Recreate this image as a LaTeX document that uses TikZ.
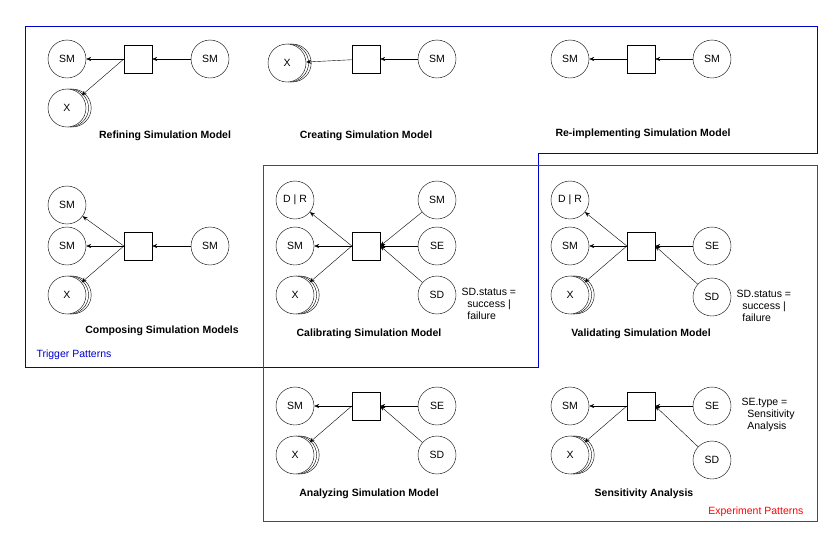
\documentclass[tikz,border=0pt]{standalone}
\usepackage{fontspec}
\setmainfont{Liberation Sans}
\usetikzlibrary{arrows.meta,positioning,shadows}

\begin{document}
\begin{tikzpicture}[
  x=1pt, y=-1pt,
  every node/.style={font=\fontsize{10.5}{12}\selectfont},
  ent/.style={circle, draw, minimum size=38pt, inner sep=0pt},
  many/.style={ent, fill=white, double copy shadow={shadow xshift=2.6pt, shadow yshift=0pt, fill=white, draw=black}},
  op/.style={rectangle, draw, minimum size=28pt, inner sep=0pt},
  title/.style={font=\fontsize{10.5}{12}\selectfont\bfseries},
  note/.style={align=left, anchor=north west},
  link/.style={-{Stealth[length=5pt,width=4pt]}, thin}
]
\useasboundingbox (0,0) rectangle (830,539);

% group frames
\draw[blue!80!black] (25,26) -- (817,26) -- (817,153) -- (538,153) -- (538,367) -- (25,367) -- cycle;
\draw[red] (263,165) rectangle (817,521);
\node[blue!80!black, anchor=west] (trig) at (33,355) {Trigger Patterns};
\node[red, anchor=east] (expe) at (807,512) {Experiment Patterns};

% refining
\node[ent] (rfa) at (67,59) {SM};
\node[many] (rfx) at (67,108) {X};
\node[op] (rfo) at (138,59) {};
\node[ent] (rfb) at (210,59) {SM};
\draw[link] (rfb) -- (rfo);
\draw[link] (rfo) -- (rfa);
\draw[link] (rfo.west) -- (rfx);
\node[title] (rft) at (165,136) {Refining Simulation Model};

% creating
\node[many] (crx) at (287,63) {X};
\node[op] (cro) at (366,59) {};
\node[ent] (crb) at (437,59) {SM};
\draw[link] (crb) -- (cro);
\draw[link] (cro) -- (crx);
\node[title] (crt) at (366,136) {Creating Simulation Model};

% re-implementing
\node[ent] (rea) at (570,59) {SM};
\node[op] (reo) at (641,59) {};
\node[ent] (reb) at (712,59) {SM};
\draw[link] (reb) -- (reo);
\draw[link] (reo) -- (rea);
\node[title] (ret) at (643,134) {Re-implementing Simulation Model};

% composing
\node[ent] (coa) at (67,205) {SM};
\node[ent] (cob) at (67,246) {SM};
\node[many] (cox) at (67,295) {X};
\node[op] (coo) at (138,246) {};
\node[ent] (coc) at (210,246) {SM};
\draw[link] (coc) -- (coo);
\draw[link] (coo.west) -- (coa);
\draw[link] (coo) -- (cob);
\draw[link] (coo.west) -- (cox);
\node[title] (cot) at (162,331) {Composing Simulation Models};

% calibrating
\node[ent] (cad) at (295,200) {D | R};
\node[ent] (cas) at (295,246) {SM};
\node[many] (cax) at (295,295) {X};
\node[op] (cao) at (366,246) {};
\node[ent] (cam) at (437,200) {SM};
\node[ent] (cae) at (437,246) {SE};
\node[ent] (cab) at (437,295) {SD};
\draw[link] (cam) -- (cao.east);
\draw[link] (cae) -- (cao);
\draw[link] (cab) -- (cao.east);
\draw[link] (cao.west) -- (cad);
\draw[link] (cao) -- (cas);
\draw[link] (cao.west) -- (cax);
\node[note] (can) at (458,285) {SD.status =\\\ \ success |\\\ \ failure};
\node[title] (cat) at (369,334) {Calibrating Simulation Model};

% validating
\node[ent] (vad) at (570,200) {D | R};
\node[ent] (vas) at (570,246) {SM};
\node[many] (vax) at (570,295) {X};
\node[op] (vao) at (641,246) {};
\node[ent] (vae) at (712,246) {SE};
\node[ent] (vab) at (712,297) {SD};
\draw[link] (vae) -- (vao);
\draw[link] (vab) -- (vao.east);
\draw[link] (vao.west) -- (vad);
\draw[link] (vao) -- (vas);
\draw[link] (vao.west) -- (vax);
\node[note] (van) at (733,287) {SD.status =\\\ \ success |\\\ \ failure};
\node[title] (vat) at (641,334) {Validating Simulation Model};

% analyzing
\node[ent] (ans) at (295,406) {SM};
\node[many] (anx) at (295,455) {X};
\node[op] (ano) at (366,406) {};
\node[ent] (ane) at (437,406) {SE};
\node[ent] (anb) at (437,455) {SD};
\draw[link] (ane) -- (ano);
\draw[link] (anb) -- (ano.east);
\draw[link] (ano) -- (ans);
\draw[link] (ano.west) -- (anx);
\node[title] (ant) at (369,494) {Analyzing Simulation Model};

% sensitivity
\node[ent] (ses) at (570,406) {SM};
\node[many] (sex) at (570,455) {X};
\node[op] (seo) at (641,406) {};
\node[ent] (see) at (712,406) {SE};
\node[ent] (seb) at (712,460) {SD};
\draw[link] (see) -- (seo);
\draw[link] (seb) -- (seo.east);
\draw[link] (seo) -- (ses);
\draw[link] (seo.west) -- (sex);
\node[note] (sen) at (738,395) {SE.type =\\\ \ Sensitivity\\\ \ Analysis};
\node[title] (set) at (644,494) {Sensitivity Analysis};
\end{tikzpicture}
\end{document}
